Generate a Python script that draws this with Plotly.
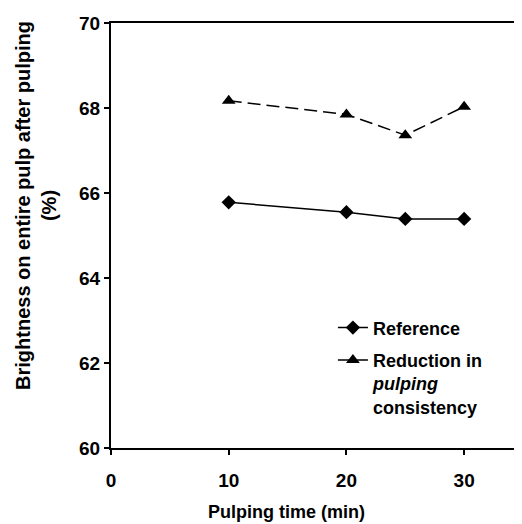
import plotly.graph_objects as go

time_min = [10, 20, 25, 30]
reference = [65.78, 65.55, 65.39, 65.39]
reduction = [68.17, 67.85, 67.36, 68.03]

x_ticks = [0, 10, 20, 30]
y_ticks = [60, 62, 64, 66, 68, 70]

FONT = "Liberation Sans"
W, H = 522, 524
L, R, T, B = 103, 5, 14, 84

fig = go.Figure()
fig.add_trace(go.Scatter(
    x=time_min, y=reference, mode="lines+markers", name="Reference",
    legendgroup="a",
    line=dict(color="black", width=1.5),
    marker=dict(symbol="diamond", size=11, color="black"),
))
fig.add_trace(go.Scatter(
    x=time_min, y=reduction, mode="lines+markers",
    name="Reduction in<br><i>pulping</i><br>consistency",
    legendgroup="b",
    line=dict(color="black", width=1.5, dash="13px,6px"),
    marker=dict(symbol="triangle-up", size=12, color="black"),
))

pw = W - L - R
ph = H - T - B

def px_x(p):
    return (p - L) / pw

def px_y(p):
    return (H - B - p) / ph

fig.update_layout(
    width=W, height=H,
    margin=dict(l=L, r=R, t=T, b=B),
    paper_bgcolor="white", plot_bgcolor="white",
    font=dict(family=FONT, size=18, color="black", weight="bold"),
    showlegend=True,
    legend=dict(
        x=px_x(326), y=px_y(301), xanchor="left", yanchor="top",
        bgcolor="rgba(0,0,0,0)", valign="top",
        font=dict(family=FONT, size=18, color="black", weight="bold"),
        tracegroupgap=6,
    ),
    xaxis=dict(
        range=[0, 35], tickvals=x_ticks, ticktext=[str(v) for v in x_ticks],
        showgrid=False, zeroline=False, showline=True, linecolor="black",
        linewidth=2, mirror=True, ticks="outside", ticklen=5, tickwidth=1.5,
        tickcolor="black", ticklabelstandoff=9,
        tickfont=dict(family=FONT, size=19, color="black", weight="bold"),
    ),
    yaxis=dict(
        range=[60, 70], tickvals=y_ticks, ticktext=[str(v) for v in y_ticks],
        showgrid=False, zeroline=False, showline=True, linecolor="black",
        linewidth=2, mirror=True, ticks="outside", ticklen=5, tickwidth=1.5,
        tickcolor="black",
        tickfont=dict(family=FONT, size=19, color="black", weight="bold"),
    ),
    annotations=[
        dict(text="Pulping time (min)", xref="paper", yref="paper",
             x=px_x(279), y=px_y(504), xanchor="center", yanchor="middle",
             showarrow=False,
             font=dict(family=FONT, size=18, color="black", weight="bold")),
        dict(text="Brightness on entire pulp after pulping<br>(%)",
             xref="paper", yref="paper", textangle=-90,
             x=px_x(27), y=px_y(197), xanchor="center", yanchor="middle",
             showarrow=False,
             font=dict(family=FONT, size=20, color="black", weight="bold")),
    ],
)

fig.write_html("out.html")
